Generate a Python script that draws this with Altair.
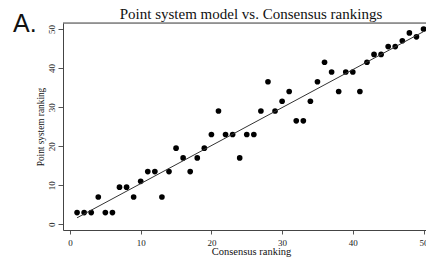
import altair as alt
import pandas as pd

consensus = list(range(1, 51))
point_rank = [3, 3, 3, 7, 3, 3, 9.5, 9.5, 7, 11,
              13.5, 13.5, 7, 13.5, 19.5, 17, 13.5, 17, 19.5, 23,
              29, 23, 23, 17, 23, 23, 29, 36.5, 29, 31.5,
              34, 26.5, 26.5, 31.5, 36.5, 41.5, 39, 34, 39, 39,
              34, 41.5, 43.5, 43.5, 45.5, 45.5, 47, 49, 48, 50]
x_ticks = [0, 10, 20, 30, 40, 50]
y_ticks = [0, 10, 20, 30, 40, 50]

df = pd.DataFrame({"consensus": consensus, "point": point_rank})

W, H = 363, 207
SERIF = "Liberation Serif"

xscale = alt.Scale(domain=[-0.99, 50.35], nice=False, zero=False)
yscale = alt.Scale(domain=[-1.46, 51.54], nice=False, zero=False)

xaxis = alt.Axis(values=x_ticks, grid=False, title="Consensus ranking",
                 labelFont=SERIF, labelFontSize=9, labelColor="#222",
                 titleFont=SERIF, titleFontSize=10.5, titleFontWeight="normal",
                 titleColor="#111", titleX=188, titleY=24.5, titleBaseline="alphabetic",
                 titleAlign="center",
                 tickSize=4, tickColor="#555", domainColor="#444", labelPadding=4)
yaxis = alt.Axis(values=y_ticks, grid=False, title="Point system ranking",
                 labelFont=SERIF, labelFontSize=9, labelColor="#222", labelAngle=270,
                 labelAlign="center", labelBaseline="alphabetic", labelPadding=3.5,
                 titleFont=SERIF, titleFontSize=9.3, titleFontWeight="normal",
                 titleColor="#111", titleX=-19.5, titleY=103.5, titleBaseline="alphabetic",
                 titleAlign="center", titleAngle=270,
                 tickSize=5, tickColor="#555", domainColor="#444")

base = alt.Chart(df)

points = base.mark_circle(size=32, color="black", opacity=1).encode(
    x=alt.X("consensus:Q", scale=xscale, axis=xaxis),
    y=alt.Y("point:Q", scale=yscale, axis=yaxis),
)

fit = base.transform_regression("consensus", "point").mark_line(
    color="#333", strokeWidth=1
).encode(
    x=alt.X("consensus:Q", scale=xscale),
    y=alt.Y("point:Q", scale=yscale),
)

one = pd.DataFrame({"t": ["A."], "title": ["Point system model vs. Consensus rankings"]})

top_line = alt.Chart(one).mark_rule(color="#444", strokeWidth=1).encode(
    x=alt.value(0), x2=alt.value(W + 5), y=alt.value(0)
)

label = alt.Chart(one).mark_text(
    font="Liberation Sans", fontSize=25, align="left", baseline="alphabetic", color="#111"
).encode(text="t:N", x=alt.value(-50), y=alt.value(9))

title = alt.Chart(one).mark_text(
    font=SERIF, fontSize=15, align="center", baseline="alphabetic", color="#111"
).encode(text="title:N", x=alt.value(188), y=alt.value(-4))

chart = alt.layer(points, fit, top_line, label, title).properties(
    width=W, height=H,
    padding={"left": 55, "top": 15, "right": 0, "bottom": 28},
    autosize=alt.AutoSizeParams(type="none"),
).configure_view(strokeWidth=0).configure(background="white")

chart.save("out.html", embed_options={"renderer": "svg", "actions": False})
